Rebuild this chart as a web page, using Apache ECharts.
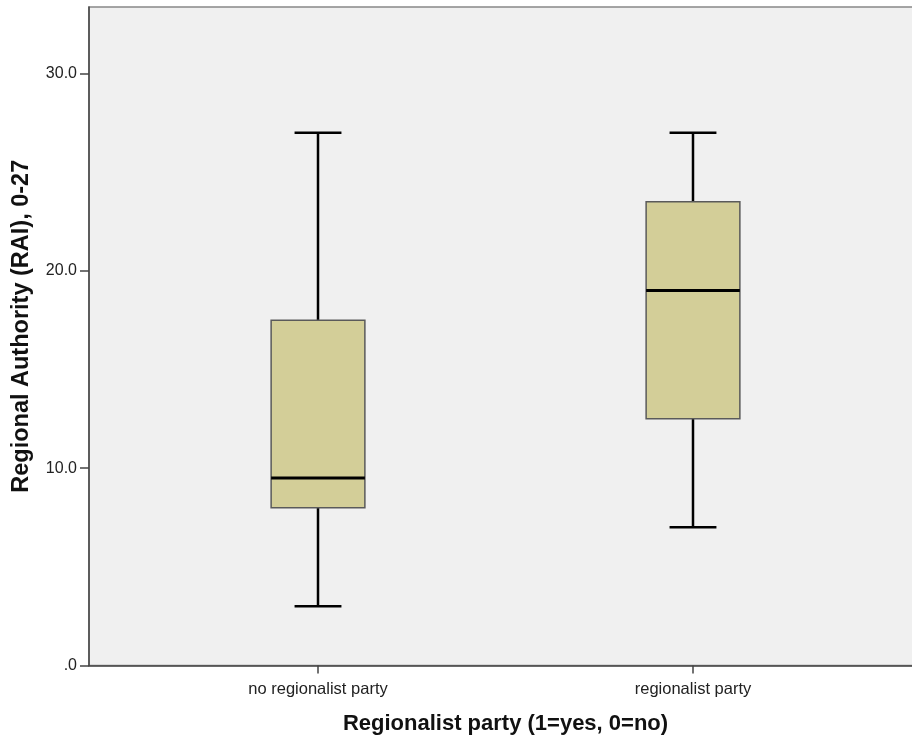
<!DOCTYPE html>
<html>
<head>
<meta charset="utf-8">
<script src="https://cdn.jsdelivr.net/npm/echarts@6/dist/echarts.min.js"></script>
<style>
    html, body { margin: 0; padding: 0; background: #fff; }
    #chart { width: 912px; height: 742px; }
</style>
</head>
<body>
<div id="chart"></div>
<script>
    // groups on the x axis
    const categories = ['no regionalist party', 'regionalist party']
    // five-number summaries per group
    const whiskerMin = [3, 7]
    const q1 = [8, 12.5]
    const median = [9.5, 19]
    const q3 = [17.5, 23.5]
    const whiskerMax = [27, 27]
    const yTicks = [0, 10, 20, 30]

    const boxData = categories.map((c, i) => [i, whiskerMin[i], q1[i], median[i], q3[i], whiskerMax[i]])

    const chart = echarts.init(document.getElementById('chart'))

    function renderBox (params, api) {
        const x = api.value(0)
        const half = api.size([0.125, 0])[0]
        const capHalf = half / 2
        const pMin = api.coord([x, api.value(1)])
        const pQ1 = api.coord([x, api.value(2)])
        const pMed = api.coord([x, api.value(3)])
        const pQ3 = api.coord([x, api.value(4)])
        const pMax = api.coord([x, api.value(5)])
        const cx = pMin[0]
        const black = { stroke: '#000', lineWidth: 2.5 }
        return {
            type: 'group',
            children: [
                { type: 'line', shape: { x1: cx, y1: pQ3[1], x2: cx, y2: pMax[1] }, style: black },
                { type: 'line', shape: { x1: cx, y1: pQ1[1], x2: cx, y2: pMin[1] }, style: black },
                { type: 'line', shape: { x1: cx - capHalf, y1: pMax[1], x2: cx + capHalf, y2: pMax[1] }, style: black },
                { type: 'line', shape: { x1: cx - capHalf, y1: pMin[1], x2: cx + capHalf, y2: pMin[1] }, style: black },
                {
                    type: 'rect',
                    shape: { x: cx - half, y: pQ3[1], width: half * 2, height: pQ1[1] - pQ3[1] },
                    style: { fill: '#d3ce98', stroke: '#5a5a5a', lineWidth: 1.5 }
                },
                { type: 'line', shape: { x1: cx - half, y1: pMed[1], x2: cx + half, y2: pMed[1] }, style: { stroke: '#000', lineWidth: 3 } }
            ]
        }
    }

    chart.setOption({
        animation: false,
        textStyle: { fontFamily: 'Liberation Sans, Arial, sans-serif' },
        grid: {
            left: 89,
            width: 833,
            top: 7,
            height: 658.5,
            containLabel: false,
            outerBoundsMode: 'none',
            show: true,
            backgroundColor: '#f0f0f0',
            borderColor: '#888',
            borderWidth: 1.5
        },
        xAxis: {
            type: 'value',
            min: -0.6107,
            max: 1.6107,
            name: 'Regionalist party (1=yes, 0=no)',
            nameLocation: 'middle',
            nameGap: 47,
            nameTextStyle: { fontSize: 22, fontWeight: 'bold', color: '#111' },
            splitLine: { show: false },
            axisLine: { onZero: false, lineStyle: { color: '#444', width: 1.5 } },
            axisTick: { customValues: [0, 1], length: 8, lineStyle: { color: '#444', width: 1.5 } },
            axisLabel: {
                customValues: [0, 1],
                margin: 15,
                fontSize: 16.5,
                color: '#222',
                formatter: v => categories[Math.round(v)]
            }
        },
        yAxis: {
            type: 'value',
            min: 0,
            max: 33.37,
            name: 'Regional Authority (RAI), 0-27',
            nameLocation: 'middle',
            nameGap: 55,
            nameTextStyle: { fontSize: 23.5, fontWeight: 'bold', color: '#111', padding: [0, 0, 0, 20] },
            splitLine: { show: false },
            axisLine: { show: true, onZero: false, lineStyle: { color: '#444', width: 1.5 } },
            axisTick: { show: true, customValues: yTicks, length: 9, lineStyle: { color: '#444', width: 1.5 } },
            axisLabel: {
                customValues: yTicks,
                margin: 12,
                fontSize: 16,
                color: '#222',
                formatter: v => v === 0 ? '.0' : v.toFixed(1)
            }
        },
        series: [{
            type: 'custom',
            renderItem: renderBox,
            encode: { x: 0, y: [1, 2, 3, 4, 5] },
            data: boxData
        }]
    })
</script>
</body>
</html>
